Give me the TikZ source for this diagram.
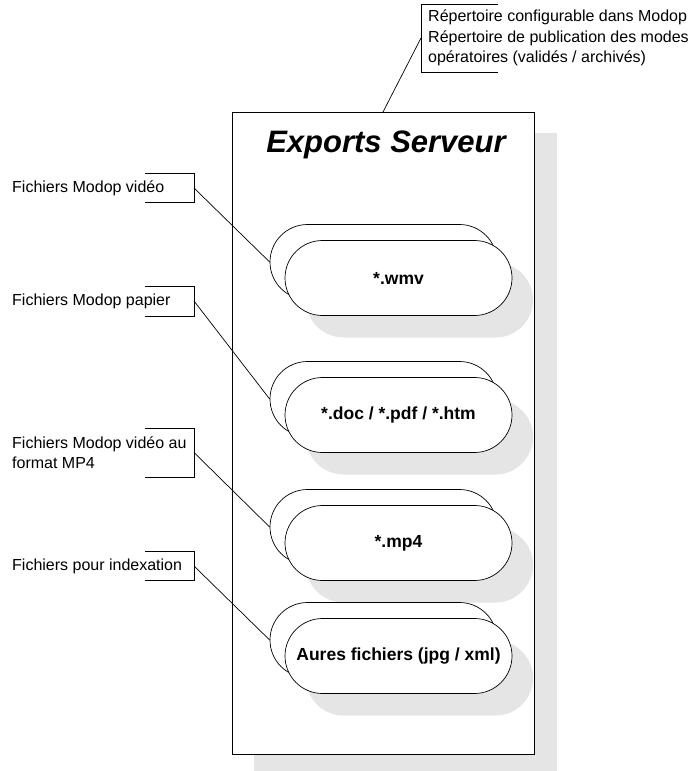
\documentclass[tikz,border=0pt]{standalone}
\usepackage{fontspec}
\setmainfont{Liberation Sans}
\usetikzlibrary{shapes.misc, positioning}
\tikzstyle{capsule} = [rounded rectangle, minimum width=227pt, minimum height=75pt, inner sep=0pt, draw=black, line width=0.7pt, fill=white, font=\bfseries\fontsize{17.5}{20}\selectfont]
\tikzstyle{capshadow} = [rounded rectangle, minimum width=227pt, minimum height=75pt, inner sep=0pt, fill=gray!20]
\tikzstyle{note} = [align=left, anchor=west, inner sep=0pt, font=\fontsize{16}{20.5}\selectfont]
\tikzstyle{bracket} = [line width=0.7pt]
\tikzstyle{leader} = [line width=0.7pt]

\begin{document}
\begin{tikzpicture}[x=1pt,y=-1pt]
			\useasboundingbox (0,0) rectangle (693,771);
			% server box and its shadow
			\fill [gray!20] (254,133) rectangle (557,780);
			\node (box) [draw=black, line width=1pt, fill=white, minimum width=302pt, minimum height=642pt, inner sep=0pt, anchor=north west] at (232,112) {};
			\node (title) [font=\bfseries\itshape\fontsize{31}{31}\selectfont] at (386,145) {Exports Serveur};

			% file groups
			\node (wmvshadow) [capshadow] at (419.5,300) {};
			\node (wmvback) [capsule] at (383.5,262) {};
			\node (wmv) [capsule] at (398.5,278) {*.wmv};

			\node (docshadow) [capshadow] at (419.5,437) {};
			\node (docback) [capsule] at (383.5,399) {};
			\node (doc) [capsule] at (398.5,415) {*.doc / *.pdf / *.htm};

			\node (mp4shadow) [capshadow] at (419.5,565) {};
			\node (mp4back) [capsule] at (383.5,527) {};
			\node (mp4) [capsule] at (398.5,543) {*.mp4};

			\node (othershadow) [capshadow] at (419.5,678) {};
			\node (otherback) [capsule] at (383.5,640) {};
			\node (other) [capsule] at (398.5,656) {Aures fichiers (jpg / xml)};

			% annotations
			\node (rep) [note] at (428,38) {Répertoire configurable dans Modop\\Répertoire de publication des modes\\opératoires (validés / archivés)};
			\coordinate (repmark) at (421,38);
			\coordinate (boxtop) at (383,112);
			\draw [bracket] (repmark) ++(77,-34) -- ++(-77,0) -- ++(0,68) -- ++(77,0);
			\draw [leader] (repmark) -- (boxtop);

			\node (video) [note] at (12,188) {Fichiers Modop vidéo};
			\coordinate (videomark) at (194,188);
			\draw [bracket] (videomark) ++(-49,-15) -- ++(49,0) -- ++(0,29) -- ++(-49,0);
			\draw [leader] (videomark) -- (wmvback.west);

			\node (paper) [note] at (12,301) {Fichiers Modop papier};
			\coordinate (papermark) at (194,301);
			\draw [bracket] (papermark) ++(-49,-15) -- ++(49,0) -- ++(0,30) -- ++(-49,0);
			\draw [leader] (papermark) -- (docback.west);

			\node (mpfour) [note] at (12,452.5) {Fichiers Modop vidéo au\\format MP4};
			\coordinate (mpfourmark) at (194,452.5);
			\draw [bracket] (mpfourmark) ++(-49,-24.5) -- ++(49,0) -- ++(0,49) -- ++(-49,0);
			\draw [leader] (mpfourmark) -- (mp4back.west);

			\node (index) [note] at (12,566) {Fichiers pour indexation};
			\coordinate (indexmark) at (194,566);
			\draw [bracket] (indexmark) ++(-49,-15) -- ++(49,0) -- ++(0,29) -- ++(-49,0);
			\draw [leader] (indexmark) -- (otherback.west);
		\end{tikzpicture}
\end{document}
